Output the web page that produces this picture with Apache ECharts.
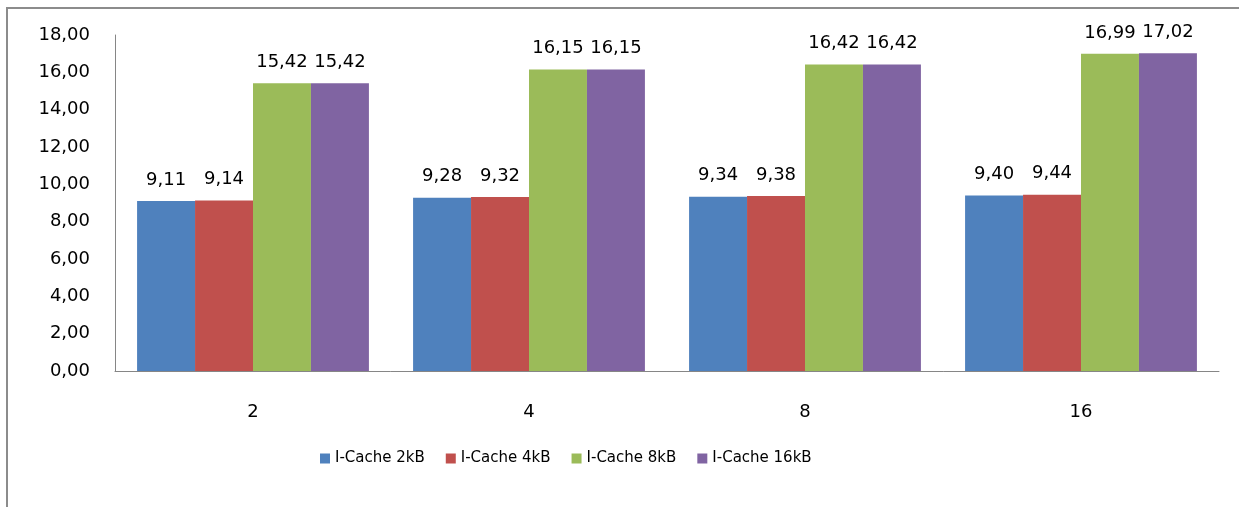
<!DOCTYPE html>
<html>
<head>
<meta charset="utf-8">
<script src="https://cdn.jsdelivr.net/npm/echarts@6/dist/echarts.min.js"></script>
<style>
html,body{margin:0;padding:0;background:#fff;}
#frame{position:absolute;left:6px;top:7px;width:1300px;height:600px;border-left:2px solid #8c8c8c;border-top:2px solid #8c8c8c;}
#chart{position:absolute;left:0;top:0;width:1239px;height:507px;}
</style>
</head>
<body>
<div id="frame"></div>
<div id="chart"></div>
<script>
const categories = ['2', '4', '8', '16'];
const seriesNames = ['I-Cache 2kB', 'I-Cache 4kB', 'I-Cache 8kB', 'I-Cache 16kB'];
const cache2kB = [9.11, 9.28, 9.34, 9.40];
const cache4kB = [9.14, 9.32, 9.38, 9.44];
const cache8kB = [15.42, 16.15, 16.42, 16.99];
const cache16kB = [15.42, 16.15, 16.42, 17.02];
const colors = ['#4F81BD', '#C0504D', '#9BBB59', '#8064A2'];
const yMin = 0, yMax = 18, yStep = 2;

const fmt = v => Number(v).toFixed(2).replace('.', ',');
const allData = [cache2kB, cache4kB, cache8kB, cache16kB];

const chart = echarts.init(document.getElementById('chart'));
chart.setOption({
  animation: false,
  textStyle: {fontFamily: 'DejaVu Sans'},
  grid: {left: 115, right: 20, top: 35, bottom: 136},
  legend: {
    data: seriesNames,
    left: 315, top: 446,
    icon: 'rect', itemWidth: 10, itemHeight: 10, itemGap: 21,
    textStyle: {fontSize: 15, color: '#000', fontFamily: 'DejaVu Sans'}
  },
  xAxis: {
    type: 'category', data: categories,
    axisLine: {lineStyle: {color: '#868686', width: 1}},
    axisTick: {show: false},
    axisLabel: {fontSize: 18, color: '#000', margin: 32}
  },
  yAxis: {
    type: 'value', min: yMin, max: yMax, interval: yStep,
    axisLine: {show: true, lineStyle: {color: '#868686', width: 1}},
    axisTick: {show: false},
    splitLine: {show: false},
    axisLabel: {fontSize: 18, color: '#000', margin: 25, formatter: fmt}
  },
  series: seriesNames.map((n, i) => ({
    name: n, type: 'bar', data: allData[i],
    itemStyle: {color: colors[i]},
    barGap: '0%', barCategoryGap: '16%',
    label: {show: true, position: 'top', distance: 12, fontSize: 18, color: '#000', formatter: p => fmt(p.value)}
  }))
});
</script>
</body>
</html>
